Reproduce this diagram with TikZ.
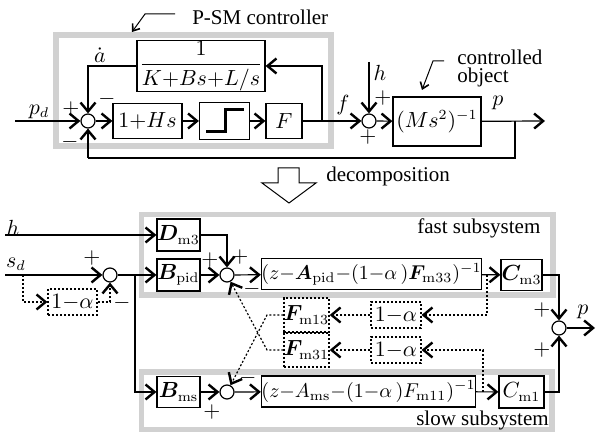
\documentclass[tikz,border=0pt]{standalone}
\usepackage[no-math]{fontspec}
\setmainfont{Liberation Serif}
\usepackage{bm}
\usetikzlibrary{arrows.meta}
\begin{document}
\begin{tikzpicture}[x=0.5pt,y=-0.5pt, font=\fontsize{10.5}{12.6}\selectfont,
 line width=0.6pt,
 >={Straight Barb[length=4.5pt,width=7.5pt,line width=1.2pt]},
 blk/.style={draw, inner sep=0pt, line width=0.6pt},
 dblk/.style={blk, dash pattern=on 1pt off 1pt},
 sumj/.style={draw, circle, minimum size=7pt, inner sep=0pt, line width=0.6pt},
 frm/.style={draw=black!18, line width=2.6pt},
 dot/.style={dash pattern=on 1pt off 1pt},
 lead/.style={-{Straight Barb[length=3pt,width=4.5pt,line width=0.8pt]}, line width=0.5pt},
 sgn/.style={inner sep=0pt},
 small/.style={font=\fontsize{9.6}{11.5}\selectfont}
]
\useasboundingbox (0,0) rectangle (596,432);

% ---------- upper diagram ----------
\draw[frm] (56,35) rectangle (331,146);
\node[anchor=base west] (psm) at (185,25) {P-SM controller};
\coordinate (psmA) at (175,14);
\coordinate (psmB) at (145,14);
\coordinate (psmC) at (132,32);
\draw[lead] (psmA) -- (psmB) -- (psmC);

\node[sumj] (s1) at (88,121) {};
\node[blk, minimum width=34.5pt, minimum height=17.5pt] (hs) at (147.5,121) {$1{+}Hs$};
\node[blk, minimum width=25pt, minimum height=18.5pt] (stp) at (224.5,121) {};
\draw[line width=1.5pt] (206,132) -- (225,132) -- (225,110) -- (244,110);
\node[blk, minimum width=18pt, minimum height=17.5pt] (F) at (284,121) {$F$};
\node[blk, minimum width=64pt, minimum height=25.5pt] (K) at (201,66) {$\displaystyle\frac{1}{K{+}Bs{+}L/s}$};
\node[sumj] (s2) at (369,121) {};
\node[blk, minimum width=44pt, minimum height=24.5pt] (M) at (437,121.5) {$(Ms^2)^{-1}$};

\coordinate (pin) at (15,121);
\coordinate (fb) at (322,121);
\coordinate (hin) at (369,62);
\coordinate (pbr) at (515,121);
\coordinate (pout) at (545,121);
\coordinate (fbb) at (88,158);

\draw[->] (pin) -- (s1);
\draw[->] (s1) -- (hs);
\draw[->] (hs) -- (stp);
\draw[->] (stp) -- (F);
\draw[->] (F) -- (s2);
\draw[->] (fb) |- (K.east);
\draw[->] (K.west) -| (s1.north);
\draw[->] (hin) -- (s2.north);
\draw[->] (s2) -- (M);
\draw[->] (M) -- (pout);
\draw (pbr) |- (fbb);
\draw[->] (fbb) -- (s1.south);

\node (adot) at (100,55) {$\dot{a}$};
\node (pd) at (39,112) {$p_d$};
\node[sgn] (sg1) at (71,109) {$+$};
\node[sgn] (sg2) at (107,99) {$-$};
\node[sgn] (sg3) at (70,142) {$-$};
\node (flab) at (343,105) {$f$};
\node (hlab) at (380,73) {$h$};
\node[sgn] (sg4) at (383,98) {$+$};
\node[sgn] (sg5) at (368,137) {$+$};
\node (plab) at (498,103) {$p$};

\node[anchor=base west] (co1) at (450,65) {controlled};
\node[anchor=base west] (co2) at (450,83) {object};
\coordinate (coA) at (444,61);
\coordinate (coB) at (433,61);
\coordinate (coC) at (422,90);
\draw[lead] (coA) -- (coB) -- (coC);

% ---------- decomposition arrow ----------
\draw[line width=0.5pt] (278,168) -- (299,168) -- (299,183) -- (316,183) -- (289,203) -- (262,183) -- (278,183) -- cycle;
\node[anchor=base west] (dec) at (319,182) {decomposition};

% ---------- lower diagram ----------
\draw[frm] (141.5,214.5) rectangle (553,295);
\draw[frm] (141.5,372) rectangle (552,430);
\node[anchor=base west] (fast) at (410,234) {fast subsystem};
\node[anchor=base west] (slow) at (409,426) {slow subsystem};

\node[blk, minimum width=21.5pt, minimum height=16pt] (Dm3) at (178.5,235) {$\bm{D}_{\mathrm{m3}}$};
\node[blk, minimum width=21.5pt, minimum height=16pt] (Bpid) at (178.5,275) {$\bm{B}_{\mathrm{pid}}$};
\node[blk, minimum width=21.5pt, minimum height=15.5pt] (Bms) at (178.5,392) {$\bm{B}_{\mathrm{ms}}$};
\node[sumj] (sA) at (110,275) {};
\node[sumj] (sF) at (227,275) {};
\node[sumj] (sS) at (227,392) {};
\node[sumj] (sO) at (559,328) {};
\node[blk, small, minimum width=108.5pt, minimum height=15.5pt] (fbox) at (371.5,274) {$(z{-}\bm{A}_{\mathrm{pid}}{-}(1{-}\alpha\,)\bm{F}_{\mathrm{m33}})^{-1}$};
\node[blk, small, minimum width=105.5pt, minimum height=15.5pt] (sbox) at (368.5,391.5) {$(z{-}A_{\mathrm{ms}}{-}(1{-}\alpha\,)F_{\mathrm{m11}})^{-1}$};
\node[blk, minimum width=20.5pt, minimum height=15.5pt] (Cm3) at (521.5,275) {$\bm{C}_{\mathrm{m3}}$};
\node[blk, minimum width=22.5pt, minimum height=16pt] (Cm1) at (521.5,392) {$C_{\mathrm{m1}}$};
\node[dblk, minimum width=21.5pt, minimum height=17pt] (Fm13) at (306.5,315) {$\bm{F}_{\mathrm{m13}}$};
\node[dblk, minimum width=21.5pt, minimum height=17pt] (Fm31) at (306.5,350) {$\bm{F}_{\mathrm{m31}}$};
\node[dblk, minimum width=25pt, minimum height=13pt] (oma1) at (396,315) {$1{-}\alpha$};
\node[dblk, minimum width=25pt, minimum height=13pt] (oma2) at (396,350) {$1{-}\alpha$};
\node[dblk, minimum width=24.5pt, minimum height=13pt] (oma0) at (72.5,302) {$1{-}\alpha$};

\coordinate (hin2) at (5,235);
\coordinate (sdin) at (5,275);
\coordinate (sdb) at (23,275);
\coordinate (br) at (135,275);
\coordinate (ft) at (487,275);
\coordinate (st) at (483,392);
\coordinate (c1) at (267,315);
\coordinate (c2) at (267,350);
\coordinate (pout2) at (595,328);

\draw[->] (hin2) -- (Dm3);
\draw[->] (sdin) -- (sA);
\draw[->] (sA) -- (Bpid);
\draw[->] (br) |- (Bms);
\draw[->] (Bpid) -- (sF);
\draw[->] (Dm3.east) -| (sF.north);
\draw[->] (sF) -- (fbox);
\draw[->] (fbox) -- (Cm3);
\draw[->] (Cm3.east) -| (sO.north);
\draw[->] (sO) -- (pout2);
\draw[->] (Bms) -- (sS);
\draw[->] (sS) -- (sbox);
\draw[->] (sbox) -- (Cm1);
\draw[->] (Cm1.east) -| (sO.south);

\draw[dot,->] (sdb) |- (oma0);
\draw[dot,->] (oma0.east) -| (sA.south);
\draw[dot,->] (ft) |- (oma1.east);
\draw[dot,->] (st) |- (oma2.east);
\draw[dot,->] (oma1) -- (Fm13);
\draw[dot,->] (oma2) -- (Fm31);
\draw[dot,->] (Fm13.west) -- (c1) -- (sS);
\draw[dot,->] (Fm31.west) -- (c2) -- (sF);

\node (hl2) at (13,228) {$h$};
\node (sdl) at (16,264) {$s_d$};
\node[sgn] (t1) at (92,258) {$+$};
\node[sgn] (t2) at (122,303) {$-$};
\node[sgn] (t3) at (210,260) {$+$};
\node[sgn] (t4) at (240,257) {$+$};
\node[sgn] (t5) at (252,289) {$-$};
\node[sgn] (t6) at (212,412) {$+$};
\node[sgn] (t7) at (248,378) {$-$};
\node[sgn] (t8) at (542,310) {$+$};
\node[sgn] (t9) at (542,350) {$+$};
\node (pl2) at (583,312) {$p$};
\end{tikzpicture}
\end{document}
